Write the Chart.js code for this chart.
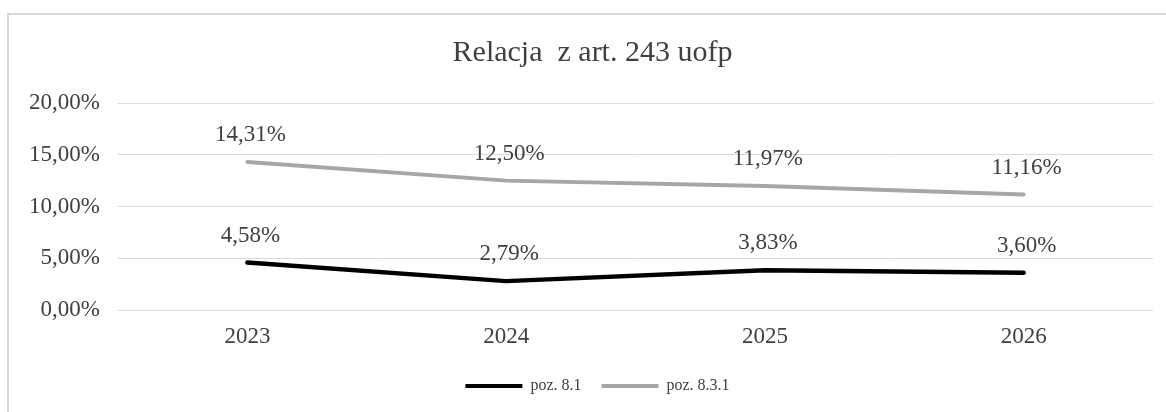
<!DOCTYPE html>
<html>
<head>
<meta charset="utf-8">
<script src="https://cdn.jsdelivr.net/npm/chart.js@4/dist/chart.umd.min.js"></script>
<style>
  html, body { margin: 0; padding: 0; background: #fff; }
  #wrap { position: relative; width: 1166px; height: 412px; overflow: hidden; }
  #frame { position: absolute; left: 7px; top: 13px; width: 1200px; height: 500px;
           border-left: 2px solid #d9d9d9; border-top: 2px solid #d9d9d9; }
  canvas { position: absolute; left: 0; top: 0; }
</style>
</head>
<body>
<div id="wrap">
  <div id="frame"></div>
  <canvas id="c" width="1166" height="412"></canvas>
</div>
<script>
const titleText = 'Relacja  z art. 243 uofp';
const categories = ['2023', '2024', '2025', '2026'];
const seriesNames = ['poz. 8.1', 'poz. 8.3.1'];
const poz81 = [4.58, 2.79, 3.83, 3.60];
const poz831 = [14.31, 12.50, 11.97, 11.16];
const yTicks = [0, 5, 10, 15, 20];

const fmt = v => v.toFixed(2).replace('.', ',') + '%';
const serif = "'Liberation Serif', 'DejaVu Serif', serif";

const dataLabels = {
  id: 'dataLabels',
  afterDatasetsDraw(chart) {
    const ctx = chart.ctx;
    ctx.save();
    ctx.font = '23px ' + serif;
    ctx.fillStyle = '#404040';
    ctx.textAlign = 'center';
    ctx.textBaseline = 'middle';
    chart.data.datasets.forEach((ds, i) => {
      const meta = chart.getDatasetMeta(i);
      meta.data.forEach((pt, j) => {
        ctx.fillText(fmt(ds.data[j]), pt.x + 3, pt.y - 27);
      });
    });
    ctx.restore();
  }
};

// shift title and legend horizontally so they centre where the reference has them
const centreShift = {
  id: 'centreShift',
  afterLayout(chart) {
    const t = chart.titleBlock, l = chart.legend;
    if (t) { t.left += 6; t.right += 6; }
    if (l) { l.left += 11; l.right += 11; }
  }
};

new Chart(document.getElementById('c'), {
  type: 'line',
  data: {
    labels: categories,
    datasets: [
      { label: seriesNames[0], data: poz81, borderColor: '#000000', backgroundColor: '#000000',
        borderWidth: 4.5, pointRadius: 0, tension: 0, borderCapStyle: 'round', borderJoinStyle: 'round' },
      { label: seriesNames[1], data: poz831, borderColor: '#a6a6a6', backgroundColor: '#a6a6a6',
        borderWidth: 4, pointRadius: 0, tension: 0, borderCapStyle: 'round', borderJoinStyle: 'round' }
    ]
  },
  options: {
    responsive: false,
    animation: false,
    layout: { padding: { left: 20, right: 13, top: 0, bottom: 8 } },
    plugins: {
      title: {
        display: true, text: titleText, color: '#404040',
        font: { family: serif, size: 30, weight: 'normal' },
        padding: { top: 35, bottom: 32 }
      },
      legend: {
        position: 'bottom',
        labels: {
          color: '#404040',
          font: { family: serif, size: 16 },
          boxWidth: 57, boxHeight: 4, padding: 20,
          generateLabels(chart) {
            return chart.data.datasets.map((ds, i) => ({
              text: ds.label, fillStyle: ds.borderColor, strokeStyle: ds.borderColor,
              lineWidth: 0, hidden: false, datasetIndex: i, fontColor: '#404040'
            }));
          }
        }
      },
      tooltip: { enabled: false }
    },
    scales: {
      x: {
        offset: true,
        grid: { display: false, drawTicks: false },
        border: { display: false },
        ticks: { color: '#404040', font: { family: serif, size: 23 }, padding: 13 },
        afterFit(s) { s.height = 48; }
      },
      y: {
        min: 0, max: 20,
        afterBuildTicks(s) { s.ticks = yTicks.map(v => ({ value: v })); },
        grid: { color: '#d9d9d9', lineWidth: 1, drawTicks: false },
        border: { display: false },
        ticks: { color: '#404040', font: { family: serif, size: 23 }, padding: 18,
                 callback: v => fmt(v) },
        afterFit(s) { s.width = 98; }
      }
    }
  },
  plugins: [dataLabels, centreShift]
});
</script>
</body>
</html>
